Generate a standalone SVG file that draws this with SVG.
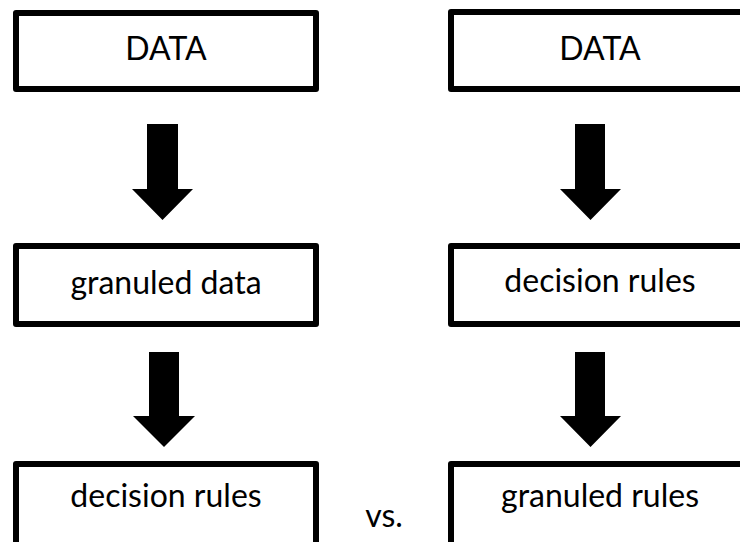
<svg xmlns="http://www.w3.org/2000/svg" width="740" height="542" viewBox="0 0 740 542">
  <style>
    .box { fill: #ffffff; stroke: #000000; stroke-width: 6; stroke-linejoin: round; }
    .label { font-family: Lato, "Open Sans", "Liberation Sans", sans-serif; font-size: 32px; fill: #000000; text-anchor: middle; }
    .arrow { fill: #000000; }
  </style>
  <rect width="740" height="542" fill="#ffffff"/>

  <!-- left pipeline -->
  <g id="left-data">
    <rect class="box" x="16" y="13" width="300" height="76"/>
    <text class="label" x="166" y="60">DATA</text>
  </g>
  <g id="left-granuled-data">
    <rect class="box" x="16" y="246" width="300" height="78"/>
    <text class="label" x="166" y="294">granuled data</text>
  </g>
  <g id="left-decision-rules">
    <rect class="box" x="16" y="464" width="300" height="90"/>
    <text class="label" x="166" y="507">decision rules</text>
  </g>

  <!-- right pipeline -->
  <g id="right-data">
    <rect class="box" x="451" y="12" width="300" height="77"/>
    <text class="label" x="600" y="60">DATA</text>
  </g>
  <g id="right-decision-rules">
    <rect class="box" x="451" y="246" width="300" height="78"/>
    <text class="label" x="600" y="292">decision rules</text>
  </g>
  <g id="right-granuled-rules">
    <rect class="box" x="451" y="464" width="300" height="90"/>
    <text class="label" x="600" y="507">granuled rules</text>
  </g>

  <text id="vs" class="label" x="384" y="527">vs.</text>

  <!-- block arrows between stages -->
  <g id="connectors">
    <polygon class="arrow" points="147,124 178,124 178,189 193,189 162.5,220 132,189 147,189"/>
    <polygon class="arrow" points="149,352 179,352 179,416 195,416 164,447 133,416 149,416"/>
    <polygon class="arrow" points="575,124 605,124 605,189 621,189 590.5,220 560,189 575,189"/>
    <polygon class="arrow" points="575,352 605,352 605,416 621,416 590.5,447 560,416 575,416"/>
  </g>
</svg>
